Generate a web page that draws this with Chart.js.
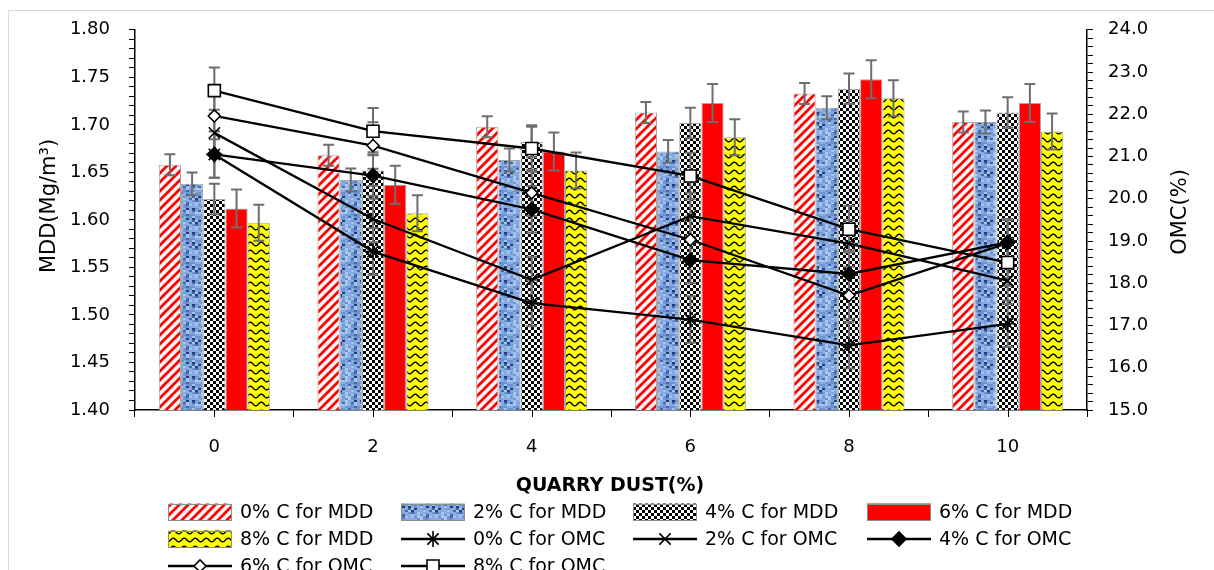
<!DOCTYPE html>
<html>
<head>
<meta charset="utf-8">
<script src="https://cdn.jsdelivr.net/npm/chart.js@4.4.1/dist/chart.umd.min.js"></script>
<style>
  html, body { margin: 0; padding: 0; background: #ffffff; }
  #wrap { position: relative; width: 1214px; height: 570px; }
</style>
</head>
<body>
<div id="wrap"><canvas id="chart" width="1214" height="570"></canvas></div>
<script>
// Quarry dust content (%) on the category axis
const quarryDust = ['0', '2', '4', '6', '8', '10'];

// Maximum dry density, Mg/m3, for each cement content
const mdd0 = [1.658, 1.668, 1.698, 1.713, 1.733, 1.703];
const mdd2 = [1.638, 1.642, 1.663, 1.672, 1.718, 1.703];
const mdd4 = [1.622, 1.652, 1.682, 1.702, 1.738, 1.713];
const mdd6 = [1.612, 1.637, 1.672, 1.723, 1.748, 1.723];
const mdd8 = [1.597, 1.607, 1.652, 1.687, 1.728, 1.693];
const mddErr = [0.011, 0.012, 0.016, 0.020, 0.019];

// Optimum moisture content, %, for each cement content
const omc0 = [21.05, 18.75, 17.53, 17.14, 16.53, 17.04];
const omc2 = [21.56, 19.52, 18.08, 19.59, 18.94, 18.06];
const omc4 = [21.05, 20.55, 19.75, 18.55, 18.22, 18.97];
const omc6 = [21.96, 21.26, 20.14, 19.03, 17.71, 18.95];
const omc8 = [22.56, 21.60, 21.19, 20.54, 19.28, 18.49];
const omcErr = [0.55, 0.55, 0.55, 0.55, 0.55];

// Axis ranges and labels
const mddRange = [1.40, 1.80];
const omcRange = [15.0, 24.0];
const mddTitle = 'MDD(Mg/m\u00b3)';
const omcTitle = 'OMC(%)';
const xTitle = 'QUARRY DUST(%)';

const FONT = '"DejaVu Sans", sans-serif';

const canvas = document.getElementById('chart');
const ctx2d = canvas.getContext('2d');

function tile(w, h, paint) {
  const c = document.createElement('canvas');
  c.width = w; c.height = h;
  paint(c.getContext('2d'), w, h);
  return ctx2d.createPattern(c, 'repeat');
}

// Red diagonal hatch
const hatchRed = tile(9, 9, (g, w, h) => {
  g.fillStyle = '#fff6f6'; g.fillRect(0, 0, w, h);
  g.strokeStyle = '#ff0000'; g.lineWidth = 2.7;
  g.beginPath();
  for (let k = -1; k <= 1; k++) { g.moveTo(k * w - 1, h + 1); g.lineTo(k * w + w + 1, -1); }
  g.stroke();
});

// Mottled blue texture
const mottledBlue = tile(24, 24, (g, w, h) => {
  const shades = ['#a9c4eb', '#87abe0', '#6d95d3', '#4268ae', '#1d3b7d'];
  for (let y = 0; y < h; y += 2) {
    for (let x = 0; x < w; x += 3) {
      const n = Math.abs(Math.sin(x * 12.9898 + y * 78.233) * 43758.5453) % 1;
      const s = n < 0.22 ? 0 : n < 0.52 ? 1 : n < 0.76 ? 2 : n < 0.89 ? 3 : 4;
      g.fillStyle = shades[s];
      g.fillRect(x, y, 3, 2);
    }
  }
});

// Black and white checkerboard
const checker = tile(6, 6, (g, w, h) => {
  g.fillStyle = '#ffffff'; g.fillRect(0, 0, w, h);
  g.fillStyle = '#000000'; g.fillRect(0, 0, 3, 3); g.fillRect(3, 3, 3, 3);
});

// Yellow with black waves
const waveYellow = tile(11, 8, (g, w, h) => {
  g.fillStyle = '#ffff00'; g.fillRect(0, 0, w, h);
  g.strokeStyle = '#000000'; g.lineWidth = 1.5;
  g.beginPath();
  for (let x = -1; x <= w + 1; x += 0.5) {
    const y = 4 + 1.8 * Math.sin(2 * Math.PI * x / w);
    if (x === -1) g.moveTo(x, y); else g.lineTo(x, y);
  }
  g.stroke();
});

function barSet(label, data, fill, err) {
  return {
    type: 'bar', label, data, backgroundColor: fill,
    borderColor: '#a6a6a6', borderWidth: 1, yAxisID: 'y', order: 2,
    categoryPercentage: 0.7, barPercentage: 1.0, errorSize: err
  };
}
function lineSet(label, data, style, radius, fill, err) {
  return {
    type: 'line', label, data, yAxisID: 'y1', order: 1,
    borderColor: '#000000', borderWidth: 2.3, tension: 0,
    pointStyle: style, pointRadius: radius, pointBorderWidth: 1.6,
    pointBackgroundColor: fill, pointBorderColor: '#000000', errorSize: err
  };
}

const datasets = [
  barSet('0% C for MDD', mdd0, hatchRed, mddErr[0]),
  barSet('2% C for MDD', mdd2, mottledBlue, mddErr[1]),
  barSet('4% C for MDD', mdd4, checker, mddErr[2]),
  barSet('6% C for MDD', mdd6, '#ff0000', mddErr[3]),
  barSet('8% C for MDD', mdd8, waveYellow, mddErr[4]),
  lineSet('0% C for OMC', omc0, 'star', 8, '#000000', omcErr[0]),
  lineSet('2% C for OMC', omc2, 'crossRot', 8, '#000000', omcErr[1]),
  lineSet('4% C for OMC', omc4, 'rectRot', 7, '#000000', omcErr[2]),
  lineSet('6% C for OMC', omc6, 'rectRot', 6, '#ffffff', omcErr[3]),
  lineSet('8% C for OMC', omc8, 'rect', 8.5, '#ffffff', omcErr[4])
];

function errBar(ctx, x, y1, y2, cap) {
  ctx.beginPath();
  ctx.moveTo(x, y1); ctx.lineTo(x, y2);
  ctx.moveTo(x - cap, y1); ctx.lineTo(x + cap, y1);
  ctx.moveTo(x - cap, y2); ctx.lineTo(x + cap, y2);
  ctx.stroke();
}

let omcErrDrawn = false;
const decorations = {
  id: 'decorations',
  beforeDraw(chart) {
    omcErrDrawn = false;
    const c = chart.ctx;
    c.save();
    c.fillStyle = '#ffffff';
    c.fillRect(0, 0, chart.width, chart.height);
    c.strokeStyle = '#d9d9d9'; c.lineWidth = 1;
    c.strokeRect(8.5, 10.5, chart.width + 20, chart.height + 20);
    c.restore();
  },
  afterDatasetDraw(chart, args) {
    const ds = chart.data.datasets[args.index];
    if (ds.type !== 'bar') return;
    const c = chart.ctx, ys = chart.scales.y;
    c.save();
    c.strokeStyle = '#6e6e6e'; c.lineWidth = 2;
    args.meta.data.forEach((el, i) => {
      const v = ds.data[i];
      errBar(c, el.x, ys.getPixelForValue(v + ds.errorSize), ys.getPixelForValue(v - ds.errorSize), 5.5);
    });
    c.restore();
  },
  beforeDatasetDraw(chart, args) {
    const ds = chart.data.datasets[args.index];
    if (ds.type !== 'line' || omcErrDrawn) return;
    omcErrDrawn = true;
    const c = chart.ctx, ys = chart.scales.y1;
    c.save();
    c.strokeStyle = '#6e6e6e'; c.lineWidth = 2;
    chart.data.datasets.forEach((d, di) => {
      if (d.type !== 'line') return;
      chart.getDatasetMeta(di).data.forEach((el, i) => {
        const v = d.data[i];
        errBar(c, el.x, ys.getPixelForValue(v + d.errorSize), ys.getPixelForValue(v - d.errorSize), 5.5);
      });
    });
    c.restore();
  },
  afterDraw(chart) {
    const c = chart.ctx, xs = chart.scales.x, area = chart.chartArea;
    c.save();
    // tick marks under each category as well as between them
    c.strokeStyle = '#000000'; c.lineWidth = 1;
    quarryDust.forEach((q, i) => {
      const x = Math.round(xs.getPixelForValue(i)) + 0.5;
      c.beginPath(); c.moveTo(x, area.bottom); c.lineTo(x, area.bottom + 7); c.stroke();
    });

    c.fillStyle = '#000000';
    // axis titles
    c.font = '21px ' + FONT;
    c.textAlign = 'center'; c.textBaseline = 'middle';
    c.save(); c.translate(50, 206); c.rotate(-Math.PI / 2); c.fillText(mddTitle, 0, 0); c.restore();
    c.save(); c.translate(1181, 212); c.rotate(-Math.PI / 2); c.fillText(omcTitle, 0, 0); c.restore();
    c.font = 'bold 19px ' + FONT;
    c.fillText(xTitle, 610, 486);

    // legend, four entries per row
    const cols = [168, 401, 633, 867];
    const rows = [512, 539, 566];
    const sw = 64, sh = 17;
    c.font = '19px ' + FONT;
    c.textAlign = 'left';
    chart.data.datasets.forEach((d, i) => {
      const x0 = cols[i % 4], yc = rows[Math.floor(i / 4)];
      if (d.type === 'bar') {
        c.fillStyle = d.backgroundColor;
        c.fillRect(x0, yc - sh / 2, sw, sh);
        c.strokeStyle = '#8c8c8c'; c.lineWidth = 1;
        c.strokeRect(x0 + 0.5, Math.round(yc - sh / 2) + 0.5, sw - 1, sh - 1);
      } else {
        c.strokeStyle = '#000000'; c.lineWidth = 2.3;
        c.beginPath(); c.moveTo(x0, yc); c.lineTo(x0 + sw, yc); c.stroke();
        c.fillStyle = d.pointBackgroundColor; c.lineWidth = d.pointBorderWidth;
        Chart.helpers.drawPoint(c, { pointStyle: d.pointStyle, radius: d.pointRadius, rotation: 0, borderWidth: d.pointBorderWidth }, x0 + sw / 2, yc);
      }
      c.fillStyle = '#000000';
      c.fillText(d.label, x0 + sw + 8, yc + 1);
    });
    c.restore();
  }
};

const tickFont = { family: FONT, size: 18 };

new Chart(canvas, {
  type: 'bar',
  data: { labels: quarryDust, datasets },
  options: {
    responsive: false, animation: false, devicePixelRatio: 1,
    events: [],
    layout: { padding: { top: 28, left: 0, right: 0, bottom: 0 } },
    plugins: { legend: { display: false }, tooltip: { enabled: false } },
    scales: {
      x: {
        offset: true,
        grid: { display: true, offset: true, drawOnChartArea: false, drawTicks: true, tickLength: 7, color: '#000000' },
        border: { display: true, color: '#000000', width: 1.5 },
        ticks: { font: tickFont, color: '#000000', padding: 20, maxRotation: 0 },
        afterFit(s) { s.height = 160; }
      },
      y: {
        position: 'left', min: mddRange[0], max: mddRange[1],
        grid: { display: true, drawOnChartArea: false, drawTicks: true, tickLength: 6, color: '#000000' },
        border: { display: true, color: '#000000', width: 1.5 },
        ticks: {
          stepSize: 0.01, autoSkip: false, font: tickFont, color: '#000000', padding: 19,
          callback(v) { const h = Math.round(v * 100); return h % 5 === 0 ? (h / 100).toFixed(2) : ''; }
        },
        afterFit(s) { s.width = 135; }
      },
      y1: {
        position: 'right', min: omcRange[0], max: omcRange[1],
        grid: { display: true, drawOnChartArea: false, drawTicks: true, tickLength: 6, color: '#000000' },
        border: { display: true, color: '#000000', width: 1.5 },
        ticks: {
          stepSize: 0.2, autoSkip: false, font: tickFont, color: '#000000', padding: 15,
          callback(v) { const t = Math.round(v * 10); return t % 10 === 0 ? (t / 10).toFixed(1) : ''; }
        },
        afterFit(s) { s.width = 127; }
      }
    }
  },
  plugins: [decorations]
});
</script>
</body>
</html>
